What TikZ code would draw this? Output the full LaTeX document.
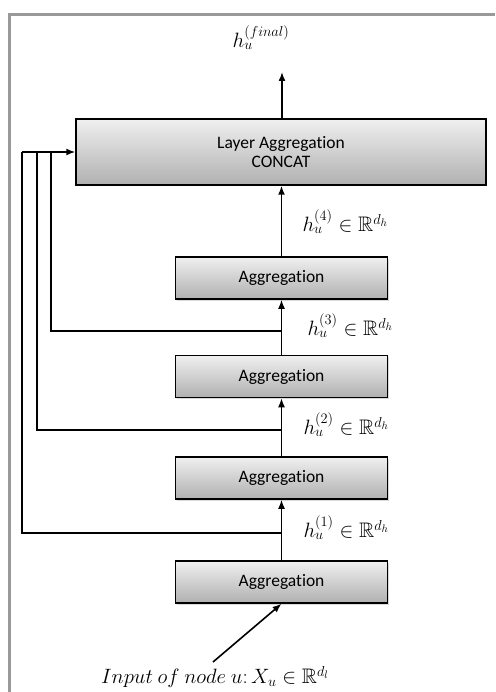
\documentclass[tikz,border=0pt]{standalone}
\usepackage{amssymb}
\usepackage{fontspec}
\setmainfont{Carlito}[Ligatures=NoCommon]
\usetikzlibrary{arrows.meta,shadows}

\begin{document}
\begin{tikzpicture}[x=1pt, y=-1pt, every node/.style={font=\fontsize{17.5}{21}\selectfont},
    agg/.style={draw, line width=1.5pt, top color=gray!12, bottom color=gray!62,
      drop shadow={opacity=0.3, shadow xshift=1pt, shadow yshift=-1.5pt},
      minimum width=212pt, minimum height=42pt, inner sep=0pt},
    lbl/.style={font=\fontsize{21}{24}\selectfont},
    arr/.style={line width=1.6pt, -{Latex[length=9pt,width=7pt]}},
    lnk/.style={line width=1.6pt}]
  \useasboundingbox (0,0) rectangle (495,692);
  \draw[gray!80, line width=3pt] (9.5,692) |- (495,14.5);
  \node[agg, minimum width=410pt, minimum height=66pt, align=center] (C) at (281,152)
      {Layer Aggregation\\[-2pt] CONCAT};
  \node[agg] (A4) at (281.5,278) {Aggregation};
  \node[agg] (A3) at (281.5,376.5) {Aggregation};
  \node[agg] (A2) at (281.5,478) {Aggregation};
  \node[agg] (A1) at (281.5,582) {Aggregation};
  \node[lbl] (F) at (261,38) {$h_u^{(final)}$};
  \node[lbl] (I) at (215,677) {$Input\ of\ node\ u\colon X_u\in\mathbb{R}^{d_l}$};
  \node[lbl, anchor=west] (H4) at (299,222) {$h_u^{(4)}\in\mathbb{R}^{d_h}$};
  \node[lbl, anchor=west] (H3) at (304,326) {$h_u^{(3)}\in\mathbb{R}^{d_h}$};
  \node[lbl, anchor=west] (H2) at (300,425) {$h_u^{(2)}\in\mathbb{R}^{d_h}$};
  \node[lbl, anchor=west] (H1) at (300,528) {$h_u^{(1)}\in\mathbb{R}^{d_h}$};
  \coordinate (J3) at (282,331); \coordinate (J2) at (282,430); \coordinate (J1) at (282,533);
  \coordinate (T3) at (51,152);  \coordinate (T2) at (37,152);  \coordinate (T1) at (22,152);
  \coordinate (O) at (282,72);   \coordinate (S) at (213,662);
  \draw[arr] (S) -- (A1.south);
  \draw[arr] (A1) -- (A2);
  \draw[arr] (A2) -- (A3);
  \draw[arr] (A3) -- (A4);
  \draw[arr] (A4) -- (A4 |- C.south);
  \draw[arr] (C.north -| O) -- (O);
  \draw[lnk] (J1) -| (T1);
  \draw[lnk] (J2) -| (T2);
  \draw[lnk] (J3) -| (T3);
  \draw[arr] (T1) -- (C.west);
\end{tikzpicture}
\end{document}
